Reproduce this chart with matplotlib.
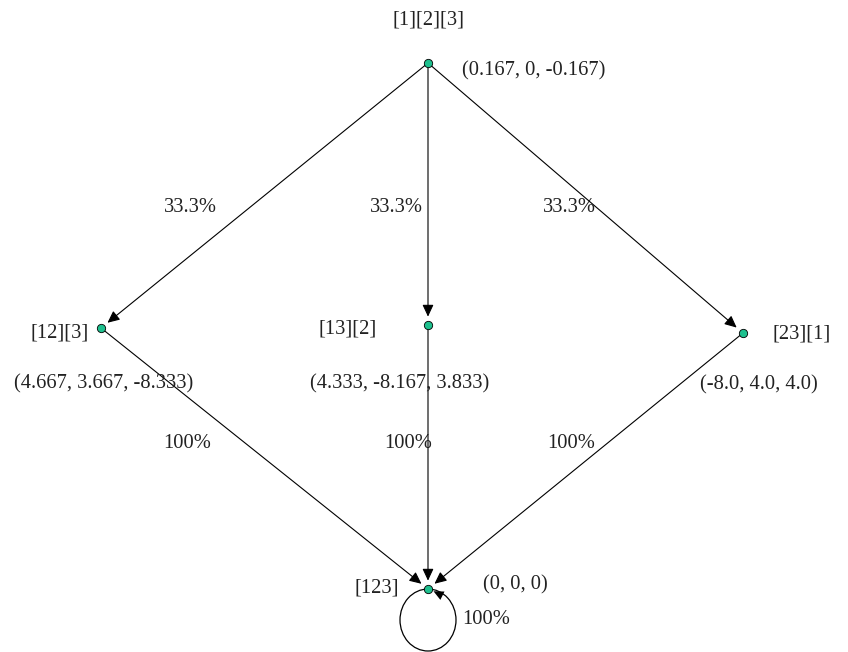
import matplotlib.pyplot as plt
from matplotlib.patches import Ellipse

# states of the process and their payoff vectors
states = ["[1][2][3]", "[12][3]", "[13][2]", "[23][1]", "[123]"]
payoffs = ["(0.167, 0, -0.167)", "(4.667, 3.667, -8.333)",
           "(4.333, -8.167, 3.833)", "(-8.0, 4.0, 4.0)", "(0, 0, 0)"]
# transitions: (from, to, probability %)
edges = [("[1][2][3]", "[12][3]", 33.3),
         ("[1][2][3]", "[13][2]", 33.3),
         ("[1][2][3]", "[23][1]", 33.3),
         ("[12][3]", "[123]", 100),
         ("[13][2]", "[123]", 100),
         ("[23][1]", "[123]", 100),
         ("[123]", "[123]", 100)]

# layout in pixel coords
pos = {"[1][2][3]": (428, 63), "[12][3]": (101, 328), "[13][2]": (428, 325),
       "[23][1]": (743, 333), "[123]": (428, 589)}
name_xy = {"[1][2][3]": (428, 20, "center"), "[12][3]": (89, 333, "right"),
           "[13][2]": (318, 329, "left"), "[23][1]": (773, 334, "left"),
           "[123]": (355, 588, "left")}
pay_xy = {"[1][2][3]": (462, 71), "[12][3]": (14, 384), "[13][2]": (310, 384),
          "[23][1]": (700, 385), "[123]": (483, 585)}
edge_lbl_xy = [(190, 207), (396, 207), (569, 207), (187, 443), (408, 443),
               (571, 443), (486, 619)]

font = dict(family="Liberation Serif", fontsize=14.8, color="#222222")

fig = plt.figure(figsize=(8.48, 6.52), dpi=100)
ax = fig.add_axes([0, 0, 1, 1])
ax.set_xlim(0, 848)
ax.set_ylim(652, 0)
ax.axis("off")

head = "-|>,head_length=0.6,head_width=0.28"
for (src, dst, p), (lx, ly) in zip(edges, edge_lbl_xy):
    txt = f"{p:g}%"
    ax.text(lx, ly, txt, ha="center", va="center", **font)
    if src == dst:
        x, y = pos[src]
        ax.add_patch(Ellipse((x, y + 31), 56, 62, fill=False, ec="black", lw=0.9))
        ax.annotate("", xy=(x + 3, y + 1), xytext=(x + 17, y + 8),
                    arrowprops=dict(arrowstyle=head, color="black", lw=0.0,
                                    shrinkA=0, shrinkB=2, mutation_scale=12))
        continue
    ax.annotate("", xy=pos[dst], xytext=pos[src],
                arrowprops=dict(arrowstyle=head, color="black", lw=0.8,
                                shrinkA=0, shrinkB=6, mutation_scale=12))

for s, pay in zip(states, payoffs):
    x, y = pos[s]
    ax.plot(x, y, "o", ms=6, mfc="#1ec08e", mec="black", mew=0.6, zorder=5)
    nx, ny, ha = name_xy[s]
    ax.text(nx, ny, s, ha=ha, va="center", **font)
    px, py = pay_xy[s]
    ax.text(px, py, pay, ha="left", va="center", **font)

fig.savefig("out.png", dpi=100, facecolor="white")
